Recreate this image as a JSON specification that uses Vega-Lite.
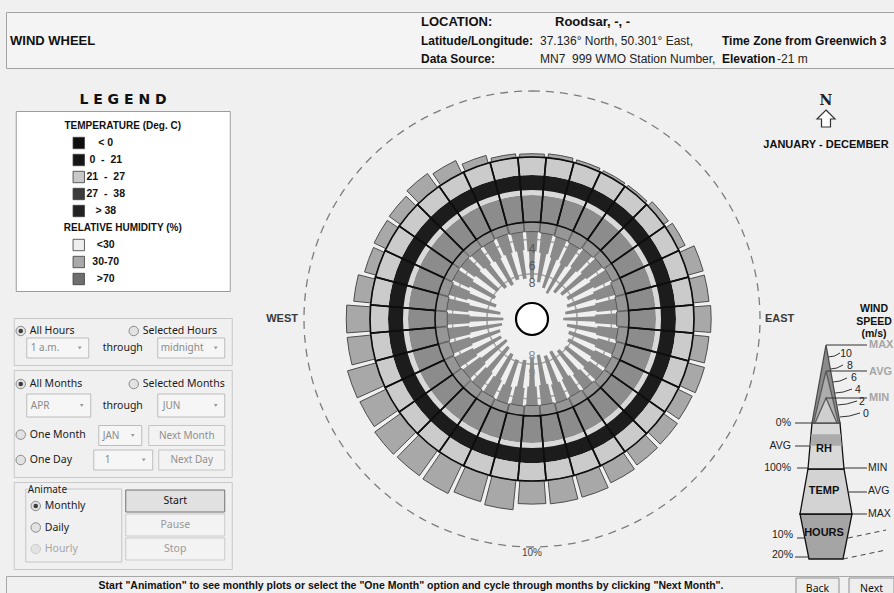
{
  "$schema": "https://vega.github.io/schema/vega-lite/v6.json",
  "background": "#f0f0f0",
  "padding": {"left": 5, "top": 11, "right": 0, "bottom": 0},
  "config": {
    "view": {"stroke": null},
    "axis": {"disable": true},
    "legend": {"disable": true},
    "font": "Liberation Sans"
  },
  "datasets": {
    "dirs": [
      {"dir":0,"spdMax":6.6,"spdAvg":3.4,"spdMin":1.1,"hours":0.5,"rh":"30-70","tIn":"0 - 21","tOut":"21 - 27"},
      {"dir":10,"spdMax":6.9,"spdAvg":3.5,"spdMin":1.2,"hours":0.6,"rh":"30-70","tIn":"0 - 21","tOut":"21 - 27"},
      {"dir":20,"spdMax":7.4,"spdAvg":3.8,"spdMin":1.3,"hours":0.5,"rh":"30-70","tIn":"0 - 21","tOut":"21 - 27"},
      {"dir":30,"spdMax":7.8,"spdAvg":4.0,"spdMin":1.4,"hours":0.4,"rh":"30-70","tIn":"0 - 21","tOut":"21 - 27"},
      {"dir":40,"spdMax":7.2,"spdAvg":3.7,"spdMin":1.2,"hours":0.4,"rh":"30-70","tIn":"0 - 21","tOut":"21 - 27"},
      {"dir":50,"spdMax":6.8,"spdAvg":3.4,"spdMin":1.1,"hours":0.9,"rh":"30-70","tIn":"0 - 21","tOut":"21 - 27"},
      {"dir":60,"spdMax":6.5,"spdAvg":3.2,"spdMin":1.0,"hours":1.2,"rh":"30-70","tIn":"0 - 21","tOut":"21 - 27"},
      {"dir":70,"spdMax":6.9,"spdAvg":3.5,"spdMin":1.2,"hours":2.4,"rh":"30-70","tIn":"0 - 21","tOut":"21 - 27"},
      {"dir":80,"spdMax":7.3,"spdAvg":3.7,"spdMin":1.3,"hours":2.4,"rh":"30-70","tIn":"0 - 21","tOut":"21 - 27"},
      {"dir":90,"spdMax":7.6,"spdAvg":3.9,"spdMin":1.4,"hours":2.6,"rh":"30-70","tIn":"0 - 21","tOut":"21 - 27"},
      {"dir":100,"spdMax":7.1,"spdAvg":3.6,"spdMin":1.2,"hours":2.4,"rh":"30-70","tIn":"0 - 21","tOut":"21 - 27"},
      {"dir":110,"spdMax":6.7,"spdAvg":3.3,"spdMin":1.1,"hours":2.6,"rh":"30-70","tIn":"0 - 21","tOut":"21 - 27"},
      {"dir":120,"spdMax":6.4,"spdAvg":3.1,"spdMin":1.0,"hours":2.4,"rh":"30-70","tIn":"0 - 21","tOut":"21 - 27"},
      {"dir":130,"spdMax":6.2,"spdAvg":3.0,"spdMin":1.0,"hours":2.6,"rh":"30-70","tIn":"0 - 21","tOut":"21 - 27"},
      {"dir":140,"spdMax":6.5,"spdAvg":3.2,"spdMin":1.1,"hours":2.7,"rh":"30-70","tIn":"0 - 21","tOut":"21 - 27"},
      {"dir":150,"spdMax":6.9,"spdAvg":3.4,"spdMin":1.2,"hours":3.0,"rh":"30-70","tIn":"0 - 21","tOut":"21 - 27"},
      {"dir":160,"spdMax":6.7,"spdAvg":3.3,"spdMin":1.1,"hours":3.5,"rh":"30-70","tIn":"0 - 21","tOut":"21 - 27"},
      {"dir":170,"spdMax":7.0,"spdAvg":3.5,"spdMin":1.2,"hours":3.6,"rh":"30-70","tIn":"0 - 21","tOut":"21 - 27"},
      {"dir":180,"spdMax":6.8,"spdAvg":3.4,"spdMin":1.2,"hours":3.5,"rh":"30-70","tIn":"0 - 21","tOut":"21 - 27"},
      {"dir":190,"spdMax":6.4,"spdAvg":3.2,"spdMin":1.1,"hours":4.5,"rh":"30-70","tIn":"0 - 21","tOut":"21 - 27"},
      {"dir":200,"spdMax":6.2,"spdAvg":3.0,"spdMin":1.0,"hours":4.2,"rh":"30-70","tIn":"0 - 21","tOut":"21 - 27"},
      {"dir":210,"spdMax":6.6,"spdAvg":3.3,"spdMin":1.1,"hours":4.8,"rh":"30-70","tIn":"0 - 21","tOut":"21 - 27"},
      {"dir":220,"spdMax":7.0,"spdAvg":3.5,"spdMin":1.2,"hours":4.7,"rh":"30-70","tIn":"0 - 21","tOut":"21 - 27"},
      {"dir":230,"spdMax":7.4,"spdAvg":3.8,"spdMin":1.3,"hours":4.8,"rh":"30-70","tIn":"0 - 21","tOut":"21 - 27"},
      {"dir":240,"spdMax":7.1,"spdAvg":3.6,"spdMin":1.2,"hours":4.4,"rh":"30-70","tIn":"0 - 21","tOut":"21 - 27"},
      {"dir":250,"spdMax":7.3,"spdAvg":3.7,"spdMin":1.3,"hours":4.5,"rh":"30-70","tIn":"0 - 21","tOut":"21 - 27"},
      {"dir":260,"spdMax":7.7,"spdAvg":3.9,"spdMin":1.4,"hours":3.6,"rh":"30-70","tIn":"0 - 21","tOut":"21 - 27"},
      {"dir":270,"spdMax":7.9,"spdAvg":4.0,"spdMin":1.4,"hours":3.6,"rh":"30-70","tIn":"0 - 21","tOut":"21 - 27"},
      {"dir":280,"spdMax":7.5,"spdAvg":3.8,"spdMin":1.3,"hours":2.6,"rh":"30-70","tIn":"0 - 21","tOut":"21 - 27"},
      {"dir":290,"spdMax":6.8,"spdAvg":3.4,"spdMin":1.2,"hours":1.8,"rh":"30-70","tIn":"0 - 21","tOut":"21 - 27"},
      {"dir":300,"spdMax":6.3,"spdAvg":3.1,"spdMin":1.0,"hours":2.0,"rh":"30-70","tIn":"0 - 21","tOut":"21 - 27"},
      {"dir":310,"spdMax":6.1,"spdAvg":3.0,"spdMin":1.0,"hours":2.1,"rh":"30-70","tIn":"0 - 21","tOut":"21 - 27"},
      {"dir":320,"spdMax":6.5,"spdAvg":3.2,"spdMin":1.1,"hours":2.6,"rh":"30-70","tIn":"0 - 21","tOut":"21 - 27"},
      {"dir":330,"spdMax":6.7,"spdAvg":3.3,"spdMin":1.1,"hours":2.1,"rh":"30-70","tIn":"0 - 21","tOut":"21 - 27"},
      {"dir":340,"spdMax":6.4,"spdAvg":3.2,"spdMin":1.0,"hours":1.2,"rh":"30-70","tIn":"0 - 21","tOut":"21 - 27"},
      {"dir":350,"spdMax":6.5,"spdAvg":3.2,"spdMin":1.1,"hours":0.6,"rh":"30-70","tIn":"0 - 21","tOut":"21 - 27"}
    ],
    "hoursGrid": [{"pct": 10}],
    "compass": [{"label": "WEST", "bearing": 270}, {"label": "EAST", "bearing": 90}, {"label": "10%", "bearing": 180}],
    "speedGrid": [{"speed": 0}, {"speed": 2}, {"speed": 4}, {"speed": 6}, {"speed": 8}],
    "calm": [{"ring": "calm"}],
    "header": [
      {"text": "WIND WHEEL", "role": "title", "col": "title", "line": "2"},
      {"text": "LOCATION:", "role": "heading", "col": "label", "line": "1"},
      {"text": "Roodsar, -, -", "role": "heading", "col": "place", "line": "1"},
      {"text": "Latitude/Longitude:", "role": "label", "col": "label", "line": "2"},
      {"text": "Data Source:", "role": "label", "col": "label", "line": "3"},
      {"text": "Time Zone from Greenwich 3", "role": "label", "col": "tail", "line": "2"},
      {"text": "Elevation", "role": "label", "col": "tail", "line": "3"},
      {"text": "37.136° North, 50.301° East,", "role": "value", "col": "value", "line": "2"},
      {"text": "MN7\u00a0\u00a0999 WMO Station Number,", "role": "value", "col": "value", "line": "3"},
      {"text": "-21 m", "role": "value", "col": "tail2", "line": "3"}
    ],
    "legendRows": [
      {"item": "TEMPERATURE (Deg. C)", "kind": "title", "label": "TEMPERATURE (Deg. C)"},
      {"item": "< 0", "kind": "entry", "label": "< 0"},
      {"item": "0 - 21", "kind": "entry", "label": "0\u00a0\u00a0-\u00a0\u00a021"},
      {"item": "21 - 27", "kind": "entry", "label": "21\u00a0\u00a0-\u00a0\u00a027"},
      {"item": "27 - 38", "kind": "entry", "label": "27\u00a0\u00a0-\u00a0\u00a038"},
      {"item": "> 38", "kind": "entry", "label": "> 38"},
      {"item": "RELATIVE HUMIDITY (%)", "kind": "title", "label": "RELATIVE HUMIDITY (%)"},
      {"item": "<30", "kind": "entry", "label": "<30"},
      {"item": "30-70", "kind": "entry", "label": "30-70"},
      {"item": ">70", "kind": "entry", "label": ">70"}
    ],
    "g1": [
      {"t": "All Hours", "kind": "radio", "col": "a", "row": "1", "on": true},
      {"t": "Selected Hours", "kind": "radio", "col": "b", "row": "1", "on": false},
      {"t": "1 a.m.", "kind": "drop", "col": "a", "row": "2"},
      {"t": "midnight", "kind": "drop", "col": "b", "row": "2"},
      {"t": "through", "kind": "link", "row": "2"}
    ],
    "g2": [
      {"t": "All Months", "kind": "radio", "col": "a", "row": "1", "on": true},
      {"t": "Selected Months", "kind": "radio", "col": "b", "row": "1", "on": false},
      {"t": "APR", "kind": "drop", "col": "a", "row": "2"},
      {"t": "JUN", "kind": "drop", "col": "b", "row": "2"},
      {"t": "through", "kind": "link", "row": "2"},
      {"t": "One Month", "kind": "radio", "col": "a", "row": "3", "on": false},
      {"t": "JAN", "kind": "pick", "row": "3"},
      {"t": "Next Month", "kind": "button", "row": "3"},
      {"t": "One Day", "kind": "radio", "col": "a", "row": "4", "on": false},
      {"t": "1", "kind": "pick", "row": "4"},
      {"t": "Next Day", "kind": "button", "row": "4"}
    ],
    "g3": [
      {"t": "Animate", "kind": "group"},
      {"t": "Monthly", "kind": "radio", "on": true, "enabled": true},
      {"t": "Daily", "kind": "radio", "on": false, "enabled": true},
      {"t": "Hourly", "kind": "radio", "on": false, "enabled": false},
      {"t": "Start", "kind": "button", "enabled": true},
      {"t": "Pause", "kind": "button", "enabled": false},
      {"t": "Stop", "kind": "button", "enabled": false}
    ],
    "footer": [
      {"t": "Start \"Animation\" to see monthly plots or select the \"One Month\" option and cycle through months by clicking \"Next Month\".", "kind": "msg"},
      {"t": "Back", "kind": "btn"},
      {"t": "Next", "kind": "btn"}
    ],
    "coneParts": [
      {"part": "hours"}, {"part": "temp"}, {"part": "rh"}, {"part": "rhAvg"},
      {"part": "spike"}, {"part": "avg"}, {"part": "min"}
    ],
    "coneLines": [{"kind": "solid"}, {"kind": "dashed"}],
    "coneLabels": [
      {"t": "MAX", "grp": "stat", "id": "sMAX"},
      {"t": "AVG", "grp": "stat", "id": "sAVG"},
      {"t": "MIN", "grp": "stat", "id": "sMIN"},
      {"t": "10", "grp": "tick", "id": "k10"},
      {"t": "8", "grp": "tick", "id": "k8"},
      {"t": "6", "grp": "tick", "id": "k6"},
      {"t": "4", "grp": "tick", "id": "k4"},
      {"t": "2", "grp": "tick", "id": "k2"},
      {"t": "0", "grp": "tick", "id": "k0"},
      {"t": "0%", "grp": "rh", "id": "rh0"},
      {"t": "AVG", "grp": "rh", "id": "rhAvg"},
      {"t": "100%", "grp": "rh", "id": "rh100"},
      {"t": "10%", "grp": "hrs", "id": "h10"},
      {"t": "20%", "grp": "hrs", "id": "h20"},
      {"t": "MIN", "grp": "temp", "id": "tMIN"},
      {"t": "AVG", "grp": "temp", "id": "tAVG"},
      {"t": "MAX", "grp": "temp", "id": "tMAX"},
      {"t": "RH", "grp": "section", "id": "RH"},
      {"t": "TEMP", "grp": "section", "id": "TEMP"},
      {"t": "HOURS", "grp": "section", "id": "HOURS"},
      {"t": "WIND", "grp": "head", "id": "WIND"},
      {"t": "SPEED", "grp": "head", "id": "SPEED"},
      {"t": "(m/s)", "grp": "head", "id": "ms"},
      {"t": "N", "grp": "north", "id": "N"},
      {"t": "JANUARY - DECEMBER", "grp": "period", "id": "period"}
    ]
  },
  "spacing": 5,
  "vconcat": [
    {
      "width": 889, "height": 56,
      "view": {"stroke": "#a3a3a3", "fill": "#f4f4f4"},
      "data": {"name": "header"},
      "resolve": {"scale": {"x": "independent"}},
      "layer": [
        {"transform": [{"filter": "datum.role === 'title'"}],
         "mark": {"type": "text", "align": "left", "baseline": "middle", "fontWeight": "bold", "fontSize": 13, "fill": "#111"},
         "encoding": {
           "x": {"field": "col", "type": "nominal", "scale": {"type": "point", "domain": ["title"], "range": [4, 4], "padding": 0}},
           "y": {"field": "line", "type": "nominal", "scale": {"type": "point", "domain": ["1", "2", "3"], "range": [10, 47], "padding": 0}},
           "text": {"field": "text"}}},
        {"transform": [{"filter": "datum.role === 'heading'"}],
         "mark": {"type": "text", "align": "left", "baseline": "middle", "fontWeight": "bold", "fontSize": 13, "fill": "#111"},
         "encoding": {
           "x": {"field": "col", "type": "nominal", "scale": {"type": "point", "domain": ["label", "place"], "range": [415, 549], "padding": 0}},
           "y": {"field": "line", "type": "nominal", "scale": {"type": "point", "domain": ["1", "2", "3"], "range": [10, 47], "padding": 0}},
           "text": {"field": "text"}}},
        {"transform": [{"filter": "datum.role === 'label'"}],
         "mark": {"type": "text", "align": "left", "baseline": "middle", "fontWeight": "bold", "fontSize": 12, "fill": "#111"},
         "encoding": {
           "x": {"field": "col", "type": "nominal", "scale": {"type": "point", "domain": ["label", "tail"], "range": [415, 716], "padding": 0}},
           "y": {"field": "line", "type": "nominal", "scale": {"type": "point", "domain": ["1", "2", "3"], "range": [10, 47], "padding": 0}},
           "text": {"field": "text"}}},
        {"transform": [{"filter": "datum.role === 'value'"}],
         "mark": {"type": "text", "align": "left", "baseline": "middle", "fontSize": 12, "fill": "#222"},
         "encoding": {
           "x": {"field": "col", "type": "nominal", "scale": {"type": "point", "domain": ["value", "tail2"], "range": [534, 771], "padding": 0}},
           "y": {"field": "line", "type": "nominal", "scale": {"type": "point", "domain": ["1", "2", "3"], "range": [10, 47], "padding": 0}},
           "text": {"field": "text"}}}
      ]
    },
    {
      "spacing": 4,
      "hconcat": [
        {
          "spacing": 25, "center": true,
          "vconcat": [
            {
              "spacing": 0, "center": true,
              "vconcat": [
                {
                  "width": 234, "height": 36,
                  "data": {"values": [{"t": "L E G E N D"}]},
                  "mark": {"type": "text", "baseline": "middle", "dy": 8, "font": "DejaVu Sans", "fontWeight": "bold", "fontSize": 14, "fill": "#111"},
                  "encoding": {"text": {"field": "t"}}
                },
                {
                  "width": 214, "height": 180,
                  "view": {"stroke": "#9c9c9c", "fill": "#ffffff"},
                  "data": {"name": "legendRows"},
                  "layer": [
                    {"transform": [{"filter": "datum.kind === 'title'"}],
                     "mark": {"type": "text", "baseline": "middle", "fontWeight": "bold", "fontSize": 10, "fill": "#111"},
                     "encoding": {
                       "y": {"field": "item", "type": "nominal", "scale": {"type": "point", "domain": ["TEMPERATURE (Deg. C)", "< 0", "0 - 21", "21 - 27", "27 - 38", "> 38", "RELATIVE HUMIDITY (%)", "<30", "30-70", ">70"], "range": [15, 168], "padding": 0}},
                       "text": {"field": "label"}}},
                    {"transform": [{"filter": "datum.kind === 'entry'"}],
                     "mark": {"type": "point", "shape": "square", "size": 130, "filled": true, "opacity": 1, "stroke": "#3a3a3a", "strokeWidth": 0.8},
                     "encoding": {
                       "x": {"datum": "swatch", "type": "nominal", "scale": {"type": "point", "domain": ["swatch", "label"], "range": [63, 90], "padding": 0}},
                       "y": {"field": "item", "type": "nominal", "scale": {"type": "point", "domain": ["TEMPERATURE (Deg. C)", "< 0", "0 - 21", "21 - 27", "27 - 38", "> 38", "RELATIVE HUMIDITY (%)", "<30", "30-70", ">70"], "range": [15, 168], "padding": 0}},
                       "fill": {"field": "item", "type": "nominal", "scale": {"domain": ["< 0", "0 - 21", "21 - 27", "27 - 38", "> 38", "<30", "30-70", ">70"], "range": ["#0e0e0e", "#161616", "#c8c8c8", "#3b3b3b", "#222222", "#efefef", "#a9a9a9", "#6e6e6e"]}}}},
                    {"transform": [{"filter": "datum.kind === 'entry'"}],
                     "mark": {"type": "text", "align": "center", "baseline": "middle", "fontWeight": "bold", "fontSize": 10.5, "fill": "#111"},
                     "encoding": {
                       "x": {"datum": "label", "type": "nominal", "scale": {"type": "point", "domain": ["swatch", "label"], "range": [63, 90], "padding": 0}},
                       "y": {"field": "item", "type": "nominal", "scale": {"type": "point", "domain": ["TEMPERATURE (Deg. C)", "< 0", "0 - 21", "21 - 27", "27 - 38", "> 38", "RELATIVE HUMIDITY (%)", "<30", "30-70", ">70"], "range": [15, 168], "padding": 0}},
                       "text": {"field": "label"}}}
                  ]
                }
              ]
            },
            {
              "spacing": 3,
              "vconcat": [
                {
                  "width": 218, "height": 47,
                  "view": {"stroke": "#c8c8c8"},
                  "data": {"name": "g1"},
                  "resolve": {"scale": {"x": "independent", "shape": "independent"}},
                  "layer": [
                    {"transform": [{"filter": "datum.kind === 'radio'"}],
                     "mark": {"type": "point", "shape": "circle", "size": 90, "filled": true, "opacity": 1, "fill": "#e2e2e2", "stroke": "#8c8c8c", "strokeWidth": 1},
                     "encoding": {
                       "x": {"field": "col", "type": "nominal", "scale": {"type": "point", "domain": ["a", "b"], "range": [7, 120], "padding": 0}},
                       "y": {"field": "row", "type": "nominal", "scale": {"type": "point", "domain": ["1", "2"], "range": [13, 30], "padding": 0}}}},
                    {"transform": [{"filter": "datum.kind === 'radio' && datum.on"}],
                     "mark": {"type": "point", "shape": "circle", "size": 20, "filled": true, "opacity": 1, "fill": "#3c3c3c"},
                     "encoding": {
                       "x": {"field": "col", "type": "nominal", "scale": {"type": "point", "domain": ["a", "b"], "range": [7, 120], "padding": 0}},
                       "y": {"field": "row", "type": "nominal", "scale": {"type": "point", "domain": ["1", "2"], "range": [13, 30], "padding": 0}}}},
                    {"transform": [{"filter": "datum.kind === 'radio'"}],
                     "mark": {"type": "text", "align": "left", "baseline": "middle", "font": "Noto Sans", "fontSize": 10.5, "fill": "#1a1a1a"},
                     "encoding": {
                       "x": {"field": "col", "type": "nominal", "scale": {"type": "point", "domain": ["a", "b"], "range": [16, 129], "padding": 0}},
                       "y": {"field": "row", "type": "nominal", "scale": {"type": "point", "domain": ["1", "2"], "range": [13, 30], "padding": 0}},
                       "text": {"field": "t"}}},
                    {"transform": [{"filter": "datum.kind === 'drop'"}],
                     "mark": {"type": "point", "size": 4, "filled": true, "opacity": 1, "fill": "#f6f6f6", "stroke": "#bcbcbc", "strokeWidth": 1},
                     "encoding": {
                       "x": {"field": "col", "type": "nominal", "scale": {"type": "point", "domain": ["a", "b"], "range": [44, 177.5], "padding": 0}},
                       "y": {"field": "row", "type": "nominal", "scale": {"type": "point", "domain": ["1", "2"], "range": [13, 30], "padding": 0}},
                       "shape": {"field": "col", "type": "nominal", "scale": {"domain": ["a", "b"], "range": ["M-31,-10H31V10H-31Z", "M-33.5,-10H33.5V10H-33.5Z"]}}}},
                    {"transform": [{"filter": "datum.kind === 'drop'"}],
                     "mark": {"type": "text", "align": "left", "baseline": "middle", "font": "Noto Sans", "fontSize": 10, "fill": "#8a8a8a"},
                     "encoding": {
                       "x": {"field": "col", "type": "nominal", "scale": {"type": "point", "domain": ["a", "b"], "range": [17, 147], "padding": 0}},
                       "y": {"field": "row", "type": "nominal", "scale": {"type": "point", "domain": ["1", "2"], "range": [13, 30], "padding": 0}},
                       "text": {"field": "t"}}},
                    {"transform": [{"filter": "datum.kind === 'drop'"}],
                     "mark": {"type": "point", "shape": "triangle-down", "size": 14, "filled": true, "opacity": 1, "fill": "#9a9a9a"},
                     "encoding": {
                       "x": {"field": "col", "type": "nominal", "scale": {"type": "point", "domain": ["a", "b"], "range": [66, 202], "padding": 0}},
                       "y": {"field": "row", "type": "nominal", "scale": {"type": "point", "domain": ["1", "2"], "range": [13, 30], "padding": 0}}}},
                    {"transform": [{"filter": "datum.kind === 'link'"}],
                     "mark": {"type": "text", "baseline": "middle", "font": "Noto Sans", "fontSize": 10.5, "fill": "#1a1a1a"},
                     "encoding": {
                       "y": {"field": "row", "type": "nominal", "scale": {"type": "point", "domain": ["1", "2"], "range": [13, 30], "padding": 0}},
                       "text": {"field": "t"}}}
                  ]
                },
                {
                  "width": 218, "height": 107,
                  "view": {"stroke": "#c8c8c8"},
                  "data": {"name": "g2"},
                  "resolve": {"scale": {"x": "independent", "y": "independent", "shape": "independent"}},
                  "layer": [
                    {"transform": [{"filter": "datum.kind === 'radio'"}],
                     "mark": {"type": "point", "shape": "circle", "size": 90, "filled": true, "opacity": 1, "fill": "#e2e2e2", "stroke": "#8c8c8c", "strokeWidth": 1},
                     "encoding": {
                       "x": {"field": "col", "type": "nominal", "scale": {"type": "point", "domain": ["a", "b"], "range": [7, 120], "padding": 0}},
                       "y": {"field": "row", "type": "nominal", "scale": {"type": "point", "domain": ["1", "2", "3", "4"], "range": [14, 90], "padding": 0}}}},
                    {"transform": [{"filter": "datum.kind === 'radio' && datum.on"}],
                     "mark": {"type": "point", "shape": "circle", "size": 20, "filled": true, "opacity": 1, "fill": "#3c3c3c"},
                     "encoding": {
                       "x": {"field": "col", "type": "nominal", "scale": {"type": "point", "domain": ["a", "b"], "range": [7, 120], "padding": 0}},
                       "y": {"field": "row", "type": "nominal", "scale": {"type": "point", "domain": ["1", "2", "3", "4"], "range": [14, 90], "padding": 0}}}},
                    {"transform": [{"filter": "datum.kind === 'radio'"}],
                     "mark": {"type": "text", "align": "left", "baseline": "middle", "font": "Noto Sans", "fontSize": 10.5, "fill": "#1a1a1a"},
                     "encoding": {
                       "x": {"field": "col", "type": "nominal", "scale": {"type": "point", "domain": ["a", "b"], "range": [16, 129], "padding": 0}},
                       "y": {"field": "row", "type": "nominal", "scale": {"type": "point", "domain": ["1", "2", "3", "4"], "range": [14, 90], "padding": 0}},
                       "text": {"field": "t"}}},
                    {"transform": [{"filter": "datum.kind === 'drop'"}],
                     "mark": {"type": "point", "size": 4, "filled": true, "opacity": 1, "fill": "#f6f6f6", "stroke": "#bcbcbc", "strokeWidth": 1},
                     "encoding": {
                       "x": {"field": "col", "type": "nominal", "scale": {"type": "point", "domain": ["a", "b"], "range": [45, 177.5], "padding": 0}},
                       "y": {"field": "row", "type": "nominal", "scale": {"type": "point", "domain": ["2"], "range": [35.5, 35.5], "padding": 0}},
                       "shape": {"field": "col", "type": "nominal", "scale": {"domain": ["a", "b"], "range": ["M-32,-11.5H32V11.5H-32Z", "M-33.5,-11.5H33.5V11.5H-33.5Z"]}}}},
                    {"transform": [{"filter": "datum.kind === 'drop'"}],
                     "mark": {"type": "text", "align": "left", "baseline": "middle", "font": "Noto Sans", "fontSize": 10, "fill": "#8a8a8a"},
                     "encoding": {
                       "x": {"field": "col", "type": "nominal", "scale": {"type": "point", "domain": ["a", "b"], "range": [17, 149], "padding": 0}},
                       "y": {"field": "row", "type": "nominal", "scale": {"type": "point", "domain": ["2"], "range": [35.5, 35.5], "padding": 0}},
                       "text": {"field": "t"}}},
                    {"transform": [{"filter": "datum.kind === 'drop'"}],
                     "mark": {"type": "point", "shape": "triangle-down", "size": 14, "filled": true, "opacity": 1, "fill": "#9a9a9a"},
                     "encoding": {
                       "x": {"field": "col", "type": "nominal", "scale": {"type": "point", "domain": ["a", "b"], "range": [68, 202], "padding": 0}},
                       "y": {"field": "row", "type": "nominal", "scale": {"type": "point", "domain": ["2"], "range": [35.5, 35.5], "padding": 0}}}},
                    {"transform": [{"filter": "datum.kind === 'link'"}],
                     "mark": {"type": "text", "baseline": "middle", "font": "Noto Sans", "fontSize": 10.5, "fill": "#1a1a1a"},
                     "encoding": {
                       "y": {"field": "row", "type": "nominal", "scale": {"type": "point", "domain": ["2"], "range": [35.5, 35.5], "padding": 0}},
                       "text": {"field": "t"}}},
                    {"transform": [{"filter": "datum.kind === 'pick'"}],
                     "mark": {"type": "point", "size": 4, "filled": true, "opacity": 1, "fill": "#f6f6f6", "stroke": "#bcbcbc", "strokeWidth": 1},
                     "encoding": {
                       "x": {"field": "t", "type": "nominal", "scale": {"type": "point", "domain": ["JAN", "1"], "range": [106.5, 109.5], "padding": 0}},
                       "y": {"field": "row", "type": "nominal", "scale": {"type": "point", "domain": ["3", "4"], "range": [65.5, 90], "padding": 0}},
                       "shape": {"field": "t", "type": "nominal", "scale": {"domain": ["JAN", "1"], "range": ["M-21.5,-10H21.5V10H-21.5Z", "M-29.5,-10H29.5V10H-29.5Z"]}}}},
                    {"transform": [{"filter": "datum.kind === 'pick'"}],
                     "mark": {"type": "text", "align": "left", "baseline": "middle", "font": "Noto Sans", "fontSize": 10, "fill": "#8a8a8a"},
                     "encoding": {
                       "x": {"field": "t", "type": "nominal", "scale": {"type": "point", "domain": ["JAN", "1"], "range": [89, 91], "padding": 0}},
                       "y": {"field": "row", "type": "nominal", "scale": {"type": "point", "domain": ["3", "4"], "range": [65.5, 90], "padding": 0}},
                       "text": {"field": "t"}}},
                    {"transform": [{"filter": "datum.kind === 'pick'"}],
                     "mark": {"type": "point", "shape": "triangle-down", "size": 14, "filled": true, "opacity": 1, "fill": "#9a9a9a"},
                     "encoding": {
                       "x": {"field": "t", "type": "nominal", "scale": {"type": "point", "domain": ["JAN", "1"], "range": [119, 130], "padding": 0}},
                       "y": {"field": "row", "type": "nominal", "scale": {"type": "point", "domain": ["3", "4"], "range": [65.5, 90], "padding": 0}}}},
                    {"transform": [{"filter": "datum.kind === 'button'"}],
                     "mark": {"type": "point", "size": 4, "filled": true, "opacity": 1, "fill": "#f3f3f3", "stroke": "#c4c4c4", "strokeWidth": 1},
                     "encoding": {
                       "x": {"field": "t", "type": "nominal", "scale": {"type": "point", "domain": ["Next Month", "Next Day"], "range": [173, 178], "padding": 0}},
                       "y": {"field": "row", "type": "nominal", "scale": {"type": "point", "domain": ["3", "4"], "range": [65.5, 90], "padding": 0}},
                       "shape": {"field": "t", "type": "nominal", "scale": {"domain": ["Next Month", "Next Day"], "range": ["M-38,-10H38V10H-38Z", "M-33,-10H33V10H-33Z"]}}}},
                    {"transform": [{"filter": "datum.kind === 'button'"}],
                     "mark": {"type": "text", "baseline": "middle", "font": "Noto Sans", "fontSize": 10, "fill": "#8f8f8f"},
                     "encoding": {
                       "x": {"field": "t", "type": "nominal", "scale": {"type": "point", "domain": ["Next Month", "Next Day"], "range": [173, 178], "padding": 0}},
                       "y": {"field": "row", "type": "nominal", "scale": {"type": "point", "domain": ["3", "4"], "range": [65.5, 90], "padding": 0}},
                       "text": {"field": "t"}}}
                  ]
                },
                {
                  "width": 218, "height": 87,
                  "view": {"stroke": "#c8c8c8"},
                  "data": {"name": "g3"},
                  "resolve": {"scale": {"x": "independent", "y": "independent"}},
                  "layer": [
                    {"transform": [{"filter": "datum.kind === 'group'"}],
                     "mark": {"type": "point", "size": 4, "filled": false, "opacity": 1, "shape": "M-46,-36.5H-48V36.5H48V-36.5H-8", "stroke": "#c4c4c4", "strokeWidth": 1},
                     "encoding": {
                       "x": {"datum": "frame", "type": "nominal", "scale": {"type": "point", "domain": ["frame"], "range": [60, 60], "padding": 0}},
                       "y": {"datum": "frame", "type": "nominal", "scale": {"type": "point", "domain": ["frame"], "range": [43.5, 43.5], "padding": 0}}}},
                    {"transform": [{"filter": "datum.kind === 'group'"}],
                     "mark": {"type": "text", "align": "left", "baseline": "middle", "font": "Noto Sans", "fontSize": 10, "fill": "#1a1a1a"},
                     "encoding": {
                       "x": {"datum": "legend", "type": "nominal", "scale": {"type": "point", "domain": ["legend"], "range": [14, 14], "padding": 0}},
                       "y": {"datum": "legend", "type": "nominal", "scale": {"type": "point", "domain": ["legend"], "range": [8, 8], "padding": 0}},
                       "text": {"field": "t"}}},
                    {"transform": [{"filter": "datum.kind === 'radio'"}],
                     "mark": {"type": "point", "shape": "circle", "size": 90, "filled": true, "opacity": 1, "fill": "#e2e2e2", "strokeWidth": 1},
                     "encoding": {
                       "x": {"datum": "radio", "type": "nominal", "scale": {"type": "point", "domain": ["radio"], "range": [22, 22], "padding": 0}},
                       "y": {"field": "t", "type": "nominal", "scale": {"type": "point", "domain": ["Monthly", "Daily", "Hourly"], "range": [24, 67], "padding": 0}},
                       "stroke": {"condition": {"test": "datum.enabled", "value": "#8c8c8c"}, "value": "#cccccc"}}},
                    {"transform": [{"filter": "datum.kind === 'radio' && datum.on"}],
                     "mark": {"type": "point", "shape": "circle", "size": 20, "filled": true, "opacity": 1, "fill": "#3c3c3c"},
                     "encoding": {
                       "x": {"datum": "radio", "type": "nominal", "scale": {"type": "point", "domain": ["radio"], "range": [22, 22], "padding": 0}},
                       "y": {"field": "t", "type": "nominal", "scale": {"type": "point", "domain": ["Monthly", "Daily", "Hourly"], "range": [24, 67], "padding": 0}}}},
                    {"transform": [{"filter": "datum.kind === 'radio'"}],
                     "mark": {"type": "text", "align": "left", "baseline": "middle", "font": "Noto Sans", "fontSize": 10.5},
                     "encoding": {
                       "x": {"datum": "label", "type": "nominal", "scale": {"type": "point", "domain": ["label"], "range": [31, 31], "padding": 0}},
                       "y": {"field": "t", "type": "nominal", "scale": {"type": "point", "domain": ["Monthly", "Daily", "Hourly"], "range": [24, 67], "padding": 0}},
                       "text": {"field": "t"},
                       "fill": {"condition": {"test": "datum.enabled", "value": "#1a1a1a"}, "value": "#a6a6a6"}}},
                    {"transform": [{"filter": "datum.kind === 'button'"}],
                     "mark": {"type": "point", "size": 4, "filled": true, "opacity": 1, "shape": "M-49.5,-11H49.5V11H-49.5Z", "strokeWidth": 1},
                     "encoding": {
                       "x": {"datum": "button", "type": "nominal", "scale": {"type": "point", "domain": ["button"], "range": [161.5, 161.5], "padding": 0}},
                       "y": {"field": "t", "type": "nominal", "scale": {"type": "point", "domain": ["Start", "Pause", "Stop"], "range": [19, 67], "padding": 0}},
                       "fill": {"condition": {"test": "datum.enabled", "value": "#e1e1e1"}, "value": "#f3f3f3"},
                       "stroke": {"condition": {"test": "datum.enabled", "value": "#707070"}, "value": "#c9c9c9"}}},
                    {"transform": [{"filter": "datum.kind === 'button'"}],
                     "mark": {"type": "text", "baseline": "middle", "font": "Noto Sans", "fontSize": 10.5},
                     "encoding": {
                       "x": {"datum": "button", "type": "nominal", "scale": {"type": "point", "domain": ["button"], "range": [161.5, 161.5], "padding": 0}},
                       "y": {"field": "t", "type": "nominal", "scale": {"type": "point", "domain": ["Start", "Pause", "Stop"], "range": [19, 67], "padding": 0}},
                       "text": {"field": "t"},
                       "fill": {"condition": {"test": "datum.enabled", "value": "#111111"}, "value": "#9a9a9a"}}}
                  ]
                }
              ]
            }
          ]
        },
        {
          "width": 576, "height": 490,
          "resolve": {"scale": {"theta": "independent", "radius": "independent", "fill": "independent", "x": "independent", "y": "independent", "shape": "independent", "stroke": "independent"}},
          "layer": [
            {"data": {"name": "hoursGrid"},
             "mark": {"type": "arc", "theta": 0, "theta2": 6.2832, "radius2": 0, "filled": false, "stroke": "#7d7d7d", "strokeWidth": 1.3, "strokeDash": [8, 6]},
             "encoding": {"radius": {"field": "pct", "type": "quantitative", "scale": {"type": "linear", "domain": [0, 10], "range": [162, 228], "zero": false, "nice": false}}}},
            {"data": {"name": "compass"}, "transform": [{"filter": "datum.label === 'WEST'"}],
             "mark": {"type": "text", "align": "right", "baseline": "middle", "dx": -6, "fontWeight": "bold", "fontSize": 11, "fill": "#3a3a3a"},
             "encoding": {
               "theta": {"field": "bearing", "type": "quantitative", "stack": null, "scale": {"type": "linear", "domain": [0, 360], "range": [0, 6.283185], "zero": false, "nice": false}},
               "radius": {"datum": 10, "type": "quantitative", "scale": {"type": "linear", "domain": [0, 10], "range": [162, 228], "zero": false, "nice": false}},
               "text": {"field": "label"}}},
            {"data": {"name": "compass"}, "transform": [{"filter": "datum.label === 'EAST'"}],
             "mark": {"type": "text", "align": "left", "baseline": "middle", "dx": 5, "fontWeight": "bold", "fontSize": 11, "fill": "#3a3a3a"},
             "encoding": {
               "theta": {"field": "bearing", "type": "quantitative", "stack": null, "scale": {"type": "linear", "domain": [0, 360], "range": [0, 6.283185], "zero": false, "nice": false}},
               "radius": {"datum": 10, "type": "quantitative", "scale": {"type": "linear", "domain": [0, 10], "range": [162, 228], "zero": false, "nice": false}},
               "text": {"field": "label"}}},
            {"data": {"name": "compass"}, "transform": [{"filter": "datum.label === '10%'"}],
             "mark": {"type": "text", "align": "center", "baseline": "top", "dy": 1, "fontSize": 10, "fill": "#444"},
             "encoding": {
               "theta": {"field": "bearing", "type": "quantitative", "stack": null, "scale": {"type": "linear", "domain": [0, 360], "range": [0, 6.283185], "zero": false, "nice": false}},
               "radius": {"datum": 10, "type": "quantitative", "scale": {"type": "linear", "domain": [0, 10], "range": [162, 228], "zero": false, "nice": false}},
               "text": {"field": "label"}}},
            {"data": {"name": "speedGrid"}, "transform": [{"filter": "datum.speed === 0"}],
             "mark": {"type": "arc", "theta": 0, "theta2": 6.2832, "radius2": 0, "fill": "#ffffff"},
             "encoding": {"radius": {"field": "speed", "type": "quantitative", "scale": {"type": "linear", "domain": [0, 10], "range": [97, 10.5], "zero": false, "nice": false}}}},
            {"data": {"name": "speedGrid"}, "transform": [{"filter": "datum.speed > 0"}],
             "mark": {"type": "arc", "theta": 0, "theta2": 6.2832, "radius2": 0, "filled": false, "stroke": "#a9a9a9", "strokeWidth": 1.2},
             "encoding": {"radius": {"field": "speed", "type": "quantitative", "scale": {"type": "linear", "domain": [0, 10], "range": [97, 10.5], "zero": false, "nice": false}}}},
            {"data": {"name": "dirs"},
             "mark": {"type": "arc", "fill": "#8a8a8a"},
             "encoding": {
               "theta": {"field": "dir", "type": "ordinal", "scale": {"type": "band", "domain": [0,10,20,30,40,50,60,70,80,90,100,110,120,130,140,150,160,170,180,190,200,210,220,230,240,250,260,270,280,290,300,310,320,330,340,350], "range": [-0.087266, 6.195919], "paddingInner": 0.5, "paddingOuter": 0.25}},
               "radius": {"field": "spdMax", "type": "quantitative", "scale": {"type": "linear", "domain": [0, 10], "range": [97, 10.5], "zero": false, "nice": false}},
               "radius2": {"datum": 0}}},
            {"data": {"name": "dirs"},
             "mark": {"type": "arc", "fill": "#8a8a8a"},
             "encoding": {
               "theta": {"field": "dir", "type": "ordinal", "scale": {"type": "band", "domain": [0,10,20,30,40,50,60,70,80,90,100,110,120,130,140,150,160,170,180,190,200,210,220,230,240,250,260,270,280,290,300,310,320,330,340,350], "range": [-0.087266, 6.195919], "paddingInner": 0.22, "paddingOuter": 0.11}},
               "radius": {"field": "spdAvg", "type": "quantitative", "scale": {"type": "linear", "domain": [0, 10], "range": [97, 10.5], "zero": false, "nice": false}},
               "radius2": {"datum": 0}}},
            {"data": {"name": "dirs"},
             "mark": {"type": "arc", "fill": "#969696", "stroke": "#3c3c3c", "strokeWidth": 0.7},
             "encoding": {
               "theta": {"field": "dir", "type": "ordinal", "scale": {"type": "band", "domain": [0,10,20,30,40,50,60,70,80,90,100,110,120,130,140,150,160,170,180,190,200,210,220,230,240,250,260,270,280,290,300,310,320,330,340,350], "range": [-0.087266, 6.195919], "paddingInner": 0.04, "paddingOuter": 0.02}},
               "radius": {"field": "spdMin", "type": "quantitative", "scale": {"type": "linear", "domain": [0, 10], "range": [97, 10.5], "zero": false, "nice": false}},
               "radius2": {"datum": 0}}},
            {"data": {"name": "speedGrid"}, "transform": [{"filter": "datum.speed > 2"}],
             "mark": {"type": "text", "baseline": "bottom", "dy": -1, "fontSize": 12, "fill": "#555"},
             "encoding": {
               "theta": {"datum": 0, "type": "quantitative", "scale": {"type": "linear", "domain": [0, 360], "range": [0, 6.283185], "zero": false, "nice": false}},
               "radius": {"field": "speed", "type": "quantitative", "scale": {"type": "linear", "domain": [0, 10], "range": [97, 10.5], "zero": false, "nice": false}},
               "text": {"field": "speed"}}},
            {"data": {"name": "speedGrid"}, "transform": [{"filter": "datum.speed > 4"}],
             "mark": {"type": "text", "baseline": "bottom", "angle": 180, "dy": -1, "fontSize": 12, "fill": "#888"},
             "encoding": {
               "theta": {"datum": 180, "type": "quantitative", "scale": {"type": "linear", "domain": [0, 360], "range": [0, 6.283185], "zero": false, "nice": false}},
               "radius": {"field": "speed", "type": "quantitative", "scale": {"type": "linear", "domain": [0, 10], "range": [97, 10.5], "zero": false, "nice": false}},
               "text": {"field": "speed"}}},
            {"data": {"name": "dirs"},
             "mark": {"type": "arc", "radius": 124, "radius2": 97},
             "encoding": {
               "theta": {"field": "dir", "type": "ordinal", "scale": {"type": "band", "domain": [0,10,20,30,40,50,60,70,80,90,100,110,120,130,140,150,160,170,180,190,200,210,220,230,240,250,260,270,280,290,300,310,320,330,340,350], "range": [-0.087266, 6.195919], "paddingInner": 0, "paddingOuter": 0}},
               "fill": {"field": "rh", "type": "nominal", "scale": {"domain": ["<30", "30-70", ">70"], "range": ["#e8e8e8", "#8c8c8c", "#6c6c6c"]}}}},
            {"data": {"name": "dirs"},
             "mark": {"type": "arc", "radius": 129, "radius2": 124, "fill": "#d9d9d9"},
             "encoding": {
               "theta": {"field": "dir", "type": "ordinal", "scale": {"type": "band", "domain": [0,10,20,30,40,50,60,70,80,90,100,110,120,130,140,150,160,170,180,190,200,210,220,230,240,250,260,270,280,290,300,310,320,330,340,350], "range": [-0.087266, 6.195919], "paddingInner": 0, "paddingOuter": 0}}}},
            {"data": {"name": "dirs"},
             "mark": {"type": "arc", "radius": 144, "radius2": 129},
             "encoding": {
               "theta": {"field": "dir", "type": "ordinal", "scale": {"type": "band", "domain": [0,10,20,30,40,50,60,70,80,90,100,110,120,130,140,150,160,170,180,190,200,210,220,230,240,250,260,270,280,290,300,310,320,330,340,350], "range": [-0.087266, 6.195919], "paddingInner": 0, "paddingOuter": 0}},
               "fill": {"field": "tIn", "type": "nominal", "scale": {"domain": ["< 0", "0 - 21", "21 - 27", "27 - 38", "> 38"], "range": ["#101010", "#1c1c1c", "#cbcbcb", "#3a3a3a", "#262626"]}}}},
            {"data": {"name": "dirs"},
             "mark": {"type": "arc", "radius": 162, "radius2": 144},
             "encoding": {
               "theta": {"field": "dir", "type": "ordinal", "scale": {"type": "band", "domain": [0,10,20,30,40,50,60,70,80,90,100,110,120,130,140,150,160,170,180,190,200,210,220,230,240,250,260,270,280,290,300,310,320,330,340,350], "range": [-0.087266, 6.195919], "paddingInner": 0, "paddingOuter": 0}},
               "fill": {"field": "tOut", "type": "nominal", "scale": {"domain": ["< 0", "0 - 21", "21 - 27", "27 - 38", "> 38"], "range": ["#101010", "#1c1c1c", "#cbcbcb", "#3a3a3a", "#262626"]}}}},
            {"data": {"name": "dirs"},
             "mark": {"type": "arc", "fill": "#a8a8a8", "stroke": "#4d4d4d", "strokeWidth": 1},
             "encoding": {
               "theta": {"field": "dir", "type": "ordinal", "scale": {"type": "band", "domain": [0,10,20,30,40,50,60,70,80,90,100,110,120,130,140,150,160,170,180,190,200,210,220,230,240,250,260,270,280,290,300,310,320,330,340,350], "range": [-0.087266, 6.195919], "paddingInner": 0.14, "paddingOuter": 0.07}},
               "radius": {"field": "hours", "type": "quantitative", "scale": {"type": "linear", "domain": [0, 10], "range": [162, 228], "zero": false, "nice": false}},
               "radius2": {"datum": 0}}},
            {"data": {"name": "dirs"},
             "mark": {"type": "arc", "radius": 162, "radius2": 97, "filled": false, "stroke": "#0e0e0e", "strokeWidth": 1.6},
             "encoding": {
               "theta": {"field": "dir", "type": "ordinal", "scale": {"type": "band", "domain": [0,10,20,30,40,50,60,70,80,90,100,110,120,130,140,150,160,170,180,190,200,210,220,230,240,250,260,270,280,290,300,310,320,330,340,350], "range": [-0.087266, 6.195919], "paddingInner": 0, "paddingOuter": 0}}}},
            {"data": {"name": "calm"},
             "mark": {"type": "arc", "theta": 0, "theta2": 6.2832, "radius": 16, "radius2": 0, "fill": "#ffffff", "stroke": "#000000", "strokeWidth": 2.2},
             "encoding": {}},
            {"data": {"name": "coneLines"}, "transform": [{"filter": "datum.kind === 'dashed'"}],
             "mark": {"type": "point", "size": 4, "filled": false, "opacity": 1, "shape": "M22,86L60,78M17,107L60,98", "stroke": "#444", "strokeWidth": 1, "strokeDash": [5, 4]},
             "encoding": {
               "x": {"datum": "axis", "type": "nominal", "scale": {"type": "point", "domain": ["axis"], "range": [582, 582], "padding": 0}},
               "y": {"datum": "axis", "type": "nominal", "scale": {"type": "point", "domain": ["axis"], "range": [378, 378], "padding": 0}}}},
            {"data": {"name": "coneParts"},
             "mark": {"type": "point", "size": 4, "filled": true, "opacity": 1, "strokeWidth": 1.3},
             "encoding": {
               "x": {"datum": "axis", "type": "nominal", "scale": {"type": "point", "domain": ["axis"], "range": [582, 582], "padding": 0}},
               "y": {"datum": "axis", "type": "nominal", "scale": {"type": "point", "domain": ["axis"], "range": [378, 378], "padding": 0}},
               "shape": {"field": "part", "type": "nominal", "scale": {"domain": ["hours", "temp", "rh", "rhAvg", "spike", "avg", "min"], "range": ["M-26,62H26L17,107H-17Z", "M-18,17H18L26,62H-26Z", "M-14,-29H14L18,17H-18Z", "M-14,-17H14L15,-7H-15Z", "M0,-107L14,-29H-14Z", "M0,-81L12.5,-29H-12.5Z", "M0,-54L11,-29H-11Z"]}},
               "fill": {"field": "part", "type": "nominal", "scale": {"domain": ["hours", "temp", "rh", "rhAvg", "spike", "avg", "min"], "range": ["#a5a5a5", "#d3d3d3", "#d9d9d9", "#ababab", "#8b8b8b", "#adadad", "#cfcfcf"]}},
               "stroke": {"field": "part", "type": "nominal", "scale": {"domain": ["hours", "temp", "rh", "rhAvg", "spike", "avg", "min"], "range": ["#111111", "#111111", "#111111", "#ababab", "#4a4a4a", "#5a5a5a", "#5a5a5a"]}}}},
            {"data": {"name": "coneLines"}, "transform": [{"filter": "datum.kind === 'solid'"}],
             "mark": {"type": "point", "size": 4, "filled": false, "opacity": 1, "shape": "M0,-107H41M0.5,-81H41M0,-54H41M-31,-29H-14M-31,-6H-16.5M-29,16H-18M18,16H41M22,40H41M26,62H41M-29,86H-22M-31,105H-17M2.3,-95Q9,-95 14,-99M4.6,-83Q11,-83 17,-87M7.1,-70Q14,-70 21,-74M9.2,-59Q17,-59 26,-63M11.5,-47Q20,-47 31,-51M13.8,-35Q23,-35 34,-39", "stroke": "#333", "strokeWidth": 1},
             "encoding": {
               "x": {"datum": "axis", "type": "nominal", "scale": {"type": "point", "domain": ["axis"], "range": [582, 582], "padding": 0}},
               "y": {"datum": "axis", "type": "nominal", "scale": {"type": "point", "domain": ["axis"], "range": [378, 378], "padding": 0}}}},
            {"data": {"name": "coneLabels"}, "transform": [{"filter": "datum.grp === 'stat'"}],
             "mark": {"type": "text", "align": "left", "baseline": "middle", "fontWeight": "bold", "fontSize": 11, "fill": "#a6a6a6"},
             "encoding": {
               "x": {"datum": "c", "type": "nominal", "scale": {"type": "point", "domain": ["c"], "range": [625, 625], "padding": 0}},
               "y": {"field": "id", "type": "nominal", "scale": {"type": "point", "domain": ["sMAX", "sAVG", "sMIN"], "range": [271, 324], "padding": 0}},
               "text": {"field": "t"}}},
            {"data": {"name": "coneLabels"}, "transform": [{"filter": "datum.grp === 'tick'"}],
             "mark": {"type": "text", "align": "center", "baseline": "middle", "fontSize": 10.5, "fill": "#222"},
             "encoding": {
               "x": {"field": "id", "type": "nominal", "scale": {"type": "point", "domain": ["k10", "k8", "k6", "k4", "k2", "k0"], "range": [602, 622], "padding": 0}},
               "y": {"field": "id", "type": "nominal", "scale": {"type": "point", "domain": ["k10", "k8", "k6", "k4", "k2", "k0"], "range": [280, 340], "padding": 0}},
               "text": {"field": "t"}}},
            {"data": {"name": "coneLabels"}, "transform": [{"filter": "datum.grp === 'rh'"}],
             "mark": {"type": "text", "align": "right", "baseline": "middle", "fontSize": 10.5, "fill": "#222"},
             "encoding": {
               "x": {"datum": "c", "type": "nominal", "scale": {"type": "point", "domain": ["c"], "range": [547, 547], "padding": 0}},
               "y": {"field": "id", "type": "nominal", "scale": {"type": "point", "domain": ["rh0", "rhAvg", "rh100"], "range": [349, 394], "padding": 0}},
               "text": {"field": "t"}}},
            {"data": {"name": "coneLabels"}, "transform": [{"filter": "datum.grp === 'hrs'"}],
             "mark": {"type": "text", "align": "right", "baseline": "middle", "fontSize": 10.5, "fill": "#222"},
             "encoding": {
               "x": {"datum": "c", "type": "nominal", "scale": {"type": "point", "domain": ["c"], "range": [549, 549], "padding": 0}},
               "y": {"field": "id", "type": "nominal", "scale": {"type": "point", "domain": ["h10", "h20"], "range": [461, 481], "padding": 0}},
               "text": {"field": "t"}}},
            {"data": {"name": "coneLabels"}, "transform": [{"filter": "datum.grp === 'temp'"}],
             "mark": {"type": "text", "align": "left", "baseline": "middle", "fontSize": 10.5, "fill": "#222"},
             "encoding": {
               "x": {"datum": "c", "type": "nominal", "scale": {"type": "point", "domain": ["c"], "range": [624, 624], "padding": 0}},
               "y": {"field": "id", "type": "nominal", "scale": {"type": "point", "domain": ["tMIN", "tAVG", "tMAX"], "range": [394, 440], "padding": 0}},
               "text": {"field": "t"}}},
            {"data": {"name": "coneLabels"}, "transform": [{"filter": "datum.grp === 'section'"}],
             "mark": {"type": "text", "align": "center", "baseline": "middle", "fontWeight": "bold", "fontSize": 11, "fill": "#111"},
             "encoding": {
               "x": {"datum": "c", "type": "nominal", "scale": {"type": "point", "domain": ["c"], "range": [580, 580], "padding": 0}},
               "y": {"field": "id", "type": "nominal", "scale": {"type": "point", "domain": ["RH", "TEMP", "HOURS"], "range": [375, 459], "padding": 0}},
               "text": {"field": "t"}}},
            {"data": {"name": "coneLabels"}, "transform": [{"filter": "datum.grp === 'head'"}],
             "mark": {"type": "text", "align": "center", "baseline": "middle", "fontWeight": "bold", "fontSize": 10.5, "fill": "#111"},
             "encoding": {
               "x": {"datum": "c", "type": "nominal", "scale": {"type": "point", "domain": ["c"], "range": [630, 630], "padding": 0}},
               "y": {"field": "id", "type": "nominal", "scale": {"type": "point", "domain": ["WIND", "SPEED", "ms"], "range": [235, 260], "padding": 0}},
               "text": {"field": "t"}}},
            {"data": {"name": "coneLabels"}, "transform": [{"filter": "datum.grp === 'north'"}],
             "mark": {"type": "text", "align": "center", "baseline": "middle", "font": "DejaVu Serif", "fontWeight": "bold", "fontSize": 14, "fill": "#222"},
             "encoding": {
               "x": {"datum": "c", "type": "nominal", "scale": {"type": "point", "domain": ["c"], "range": [582, 582], "padding": 0}},
               "y": {"field": "id", "type": "nominal", "scale": {"type": "point", "domain": ["N"], "range": [27, 27], "padding": 0}},
               "text": {"field": "t"}}},
            {"data": {"name": "coneLabels"}, "transform": [{"filter": "datum.grp === 'north'"}],
             "mark": {"type": "point", "size": 4, "filled": true, "opacity": 1, "shape": "M0,-9L9,0H4.5V8H-4.5V0H-9Z", "fill": "#ffffff", "stroke": "#333", "strokeWidth": 1.2},
             "encoding": {
               "x": {"datum": "c", "type": "nominal", "scale": {"type": "point", "domain": ["c"], "range": [582, 582], "padding": 0}},
               "y": {"field": "id", "type": "nominal", "scale": {"type": "point", "domain": ["N"], "range": [45, 45], "padding": 0}}}},
            {"data": {"name": "coneLabels"}, "transform": [{"filter": "datum.grp === 'period'"}],
             "mark": {"type": "text", "align": "center", "baseline": "middle", "fontWeight": "bold", "fontSize": 11, "fill": "#111"},
             "encoding": {
               "x": {"datum": "c", "type": "nominal", "scale": {"type": "point", "domain": ["c"], "range": [582, 582], "padding": 0}},
               "y": {"field": "id", "type": "nominal", "scale": {"type": "point", "domain": ["period"], "range": [71, 71], "padding": 0}},
               "text": {"field": "t"}}}
          ]
        }
      ]
    },
    {
      "width": 889, "height": 26,
      "view": {"stroke": "#a8a8a8", "fill": "#f0f0f0"},
      "data": {"name": "footer"},
      "resolve": {"scale": {"x": "independent", "y": "independent", "shape": "independent"}},
      "layer": [
        {"transform": [{"filter": "datum.kind === 'msg'"}],
         "mark": {"type": "text", "align": "center", "baseline": "middle", "fontWeight": "bold", "fontSize": 10.5, "fill": "#111"},
         "encoding": {
           "x": {"datum": "msg", "type": "nominal", "scale": {"type": "point", "domain": ["msg"], "range": [405, 405], "padding": 0}},
           "y": {"datum": "msg", "type": "nominal", "scale": {"type": "point", "domain": ["msg"], "range": [10, 10], "padding": 0}},
           "text": {"field": "t"}}},
        {"transform": [{"filter": "datum.kind === 'btn'"}],
         "mark": {"type": "point", "size": 4, "filled": true, "opacity": 1, "fill": "#ededed", "stroke": "#8f8f8f", "strokeWidth": 1},
         "encoding": {
           "x": {"field": "t", "type": "nominal", "scale": {"type": "point", "domain": ["Back", "Next"], "range": [811.5, 865.5], "padding": 0}},
           "y": {"datum": "btn", "type": "nominal", "scale": {"type": "point", "domain": ["btn"], "range": [12.5, 12.5], "padding": 0}},
           "shape": {"field": "t", "type": "nominal", "scale": {"domain": ["Back", "Next"], "range": ["M-21.5,-10.5H21.5V10.5H-21.5Z", "M-22.5,-10.5H22.5V10.5H-22.5Z"]}}}},
        {"transform": [{"filter": "datum.kind === 'btn'"}],
         "mark": {"type": "text", "align": "center", "baseline": "middle", "font": "Noto Sans", "fontSize": 10.5, "fill": "#111"},
         "encoding": {
           "x": {"field": "t", "type": "nominal", "scale": {"type": "point", "domain": ["Back", "Next"], "range": [811.5, 865.5], "padding": 0}},
           "y": {"datum": "btn", "type": "nominal", "scale": {"type": "point", "domain": ["btn"], "range": [12.5, 12.5], "padding": 0}},
           "text": {"field": "t"}}}
      ]
    }
  ]
}
